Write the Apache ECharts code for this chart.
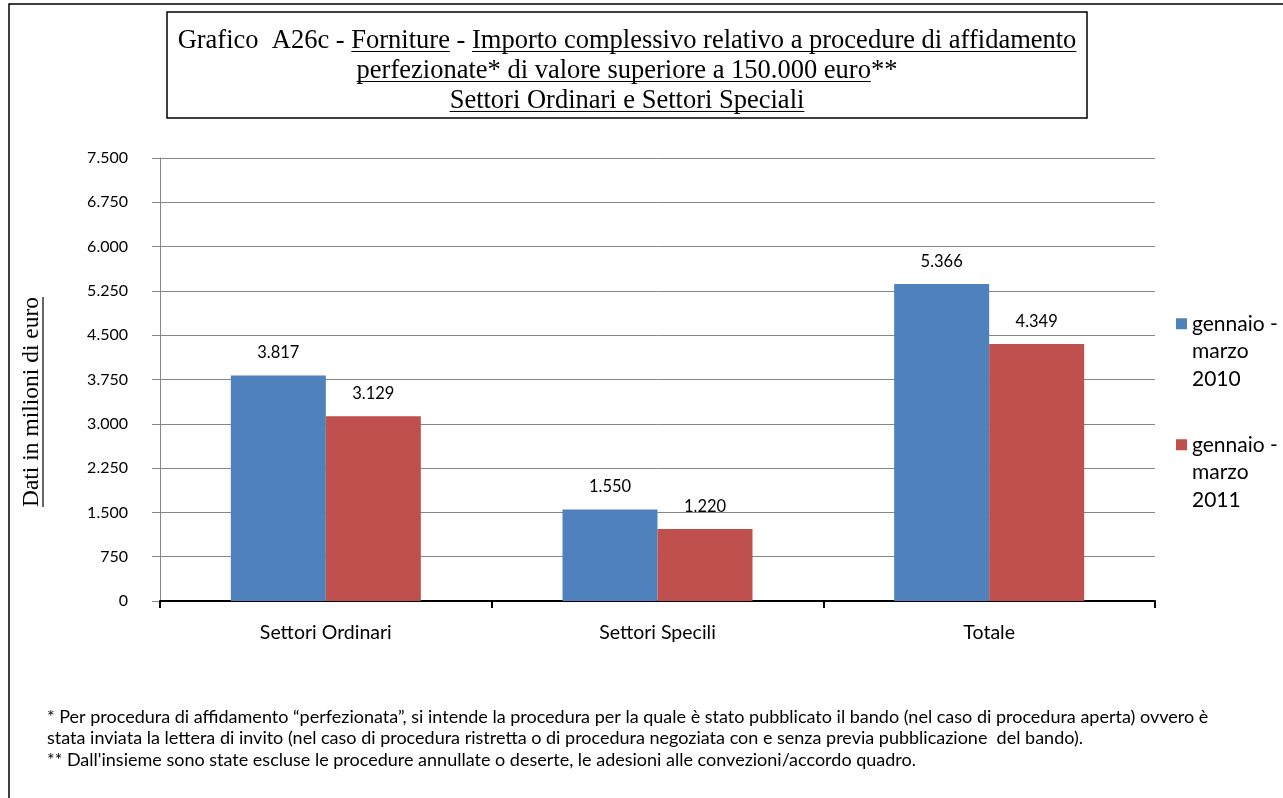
<!DOCTYPE html>
<html>
<head>
<meta charset="utf-8">
<script src="https://cdn.jsdelivr.net/npm/echarts@6/dist/echarts.min.js"></script>
<style>
html,body{margin:0;padding:0;background:#fff;}
#chart{width:1283px;height:798px;}
</style>
</head>
<body>
<div id="chart"></div>
<script>
// ---- data ----
const categories = ['Settori Ordinari', 'Settori Specili', 'Totale'];
const seriesNames = ['gennaio - marzo 2010', 'gennaio - marzo 2011'];
const values2010 = [3817, 1550, 5366];
const values2011 = [3129, 1220, 4349];
const yTicks = [0, 750, 1500, 2250, 3000, 3750, 4500, 5250, 6000, 6750, 7500];

const titleLines = [
  [['Grafico  A26c - ', false], ['Forniture', true], [' - ', false], ['Importo complessivo relativo a procedure di affidamento', true]],
  [['perfezionate* di valore superiore a 150.000 euro', true], ['**', false]],
  [['Settori Ordinari e Settori Speciali', true]]
];
const yAxisTitle = 'Dati in milioni di euro';
const footnotes = [
  '* Per procedura di affidamento \u201cperfezionata\u201d, si intende la procedura per la quale \u00e8 stato pubblicato il bando (nel caso di procedura aperta) ovvero \u00e8',
  'stata inviata la lettera di invito (nel caso di procedura ristretta o di procedura negoziata con e senza previa pubblicazione  del bando).',
  '** Dall\'insieme sono state escluse le procedure annullate o deserte, le adesioni alle convezioni/accordo quadro.'
];

// ---- helpers ----
const fmt = v => String(v).replace(/\B(?=(\d{3})+(?!\d))/g, '.');
const mctx = document.createElement('canvas').getContext('2d');
function tw(text, font) { mctx.font = font; return mctx.measureText(text).width; }

const serifFamily = '"Liberation Serif", "Times New Roman", serif';
const sansFamily = 'Lato, Carlito, Calibri, sans-serif';
const titleSize = 26.5;
const titleFont = titleSize + 'px ' + serifFamily;

const graphics = [];
// outer frame (cropped at right/bottom)
graphics.push({type:'rect', shape:{x:9, y:4, width:1400, height:900}, style:{fill:'none', stroke:'#000', lineWidth:1.5}, silent:true});
// title box
graphics.push({type:'rect', shape:{x:167, y:12, width:920, height:106}, style:{fill:'#fff', stroke:'#000', lineWidth:1.5}, silent:true});
const titleCx = 627;
const titleYs = [41, 71, 101];
titleLines.forEach((segs, li) => {
  const total = segs.reduce((s, g) => s + tw(g[0], titleFont), 0);
  let x = titleCx - total / 2;
  segs.forEach(([t, u]) => {
    const w = tw(t, titleFont);
    graphics.push({type:'text', x:x, y:titleYs[li], style:{text:t, fill:'#000', font:titleFont, textAlign:'left', textVerticalAlign:'middle'}, silent:true});
    if (u) {
      graphics.push({type:'line', shape:{x1:x, y1:titleYs[li]+10.5, x2:x+w, y2:titleYs[li]+10.5}, style:{stroke:'#000', lineWidth:1.2}, silent:true});
    }
    x += w;
  });
});
// y axis title (rotated) with underline
const yTitleFont = '23.5px ' + serifFamily;
const yTitleW = tw(yAxisTitle, yTitleFont);
graphics.push({type:'text', x:32, y:402, rotation:Math.PI/2, style:{text:yAxisTitle, fill:'#000', font:yTitleFont, textAlign:'center', textVerticalAlign:'middle'}, silent:true});
graphics.push({type:'line', shape:{x1:43, y1:402 - yTitleW/2, x2:43, y2:402 + yTitleW/2}, style:{stroke:'#000', lineWidth:1.2}, silent:true});
// footnotes
footnotes.forEach((t, i) => {
  graphics.push({type:'text', x:47, y:717 + i*21.5, style:{text:t, fill:'#000', font:'18px ' + sansFamily, textAlign:'left', textVerticalAlign:'middle'}, silent:true});
});

const chart = echarts.init(document.getElementById('chart'), null, {renderer:'canvas'});
const labelStyle = {show:true, position:'top', distance:14, formatter: p => fmt(p.value), color:'#000', fontFamily:sansFamily, fontSize:16.5};
chart.setOption({
  animation:false,
  backgroundColor:'#fff',
  grid:{left:160, right:128, top:158, bottom:197, containLabel:false},
  legend:{
    orient:'vertical', left:1171, top:250, itemWidth:11, itemHeight:11, itemGap:-16.5,
    icon:'rect',
    formatter: name => { const p = name.split(' '); return '\n\n' + p[0] + ' ' + p[1] + '\n' + p[2] + '\n' + p[3]; },
    textStyle:{fontFamily:sansFamily, fontSize:21, color:'#000', lineHeight:27.5},
    data: seriesNames
  },
  xAxis:{
    type:'category', data:categories,
    axisLine:{lineStyle:{color:'#000', width:2}},
    axisTick:{show:true, alignWithLabel:false, length:7, lineStyle:{color:'#000', width:2}},
    axisLabel:{color:'#000', fontFamily:sansFamily, fontSize:19.5, margin:22}
  },
  yAxis:{
    type:'value', min:yTicks[0], max:yTicks[yTicks.length-1], interval:yTicks[1]-yTicks[0],
    axisLine:{show:true, lineStyle:{color:'#868686', width:1}},
    axisTick:{show:true, inside:false, length:8, lineStyle:{color:'#868686'}},
    splitLine:{lineStyle:{color:'#868686', width:1}},
    axisLabel:{color:'#000', fontFamily:sansFamily, fontSize:16, margin:32, formatter: v => fmt(v)}
  },
  series:[
    {name:seriesNames[0], type:'bar', data:values2010, barWidth:95, barGap:'0%', itemStyle:{color:'#4F81BD'}, label:labelStyle},
    {name:seriesNames[1], type:'bar', data:values2011, barWidth:95, barGap:'0%', itemStyle:{color:'#C0504D'}, label:labelStyle}
  ],
  graphic: graphics
});
</script>
</body>
</html>
